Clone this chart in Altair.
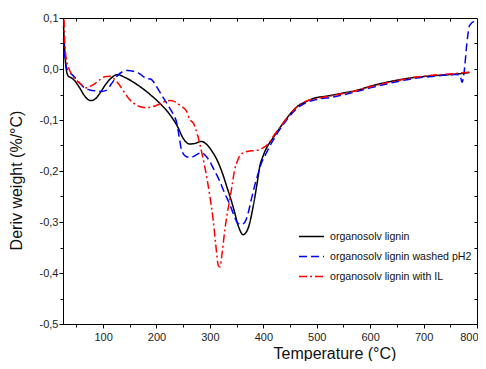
import altair as alt
import pandas as pd

names = ["organosolv lignin", "organosolv lignin washed pH2", "organosolv lignin with IL"]

black_x = [26, 28, 31, 35, 40, 46, 55, 65, 72, 78, 86, 95, 105, 115, 127, 140, 160, 187, 205, 224, 240, 250,
           262, 272, 284, 295, 305, 315, 324, 332, 340, 347, 352, 357, 362, 368, 374, 379, 384, 389, 393, 399,
           405, 417, 430, 445, 462, 480, 493, 520, 550, 574, 600, 640, 680, 720, 760, 786]
black_y = [0.085, 0.04, 0.0, -0.014, -0.017, -0.022, -0.035, -0.052, -0.06, -0.062, -0.058, -0.046, -0.03,
           -0.018, -0.011, -0.016, -0.028, -0.049, -0.066, -0.088, -0.114, -0.136, -0.147, -0.146, -0.142,
           -0.149, -0.163, -0.182, -0.206, -0.232, -0.258, -0.284, -0.304, -0.318, -0.325, -0.32, -0.304,
           -0.28, -0.252, -0.22, -0.193, -0.172, -0.157, -0.137, -0.117, -0.095, -0.075, -0.064, -0.058,
           -0.053, -0.047, -0.042, -0.034, -0.024, -0.017, -0.013, -0.010, -0.007]

blue_x = [26, 28, 31, 34, 40, 46, 55, 65, 75, 87, 97, 106, 115, 127, 137, 146, 158, 168, 180, 190, 197, 205,
          212, 222, 231, 238, 242, 246, 250, 256, 265, 275, 284, 292, 299, 308, 318, 327, 337, 345, 352, 358,
          365, 371, 377, 383, 390, 397, 405, 417, 430, 445, 462, 480, 500, 530, 560, 600, 640, 680, 720, 760,
          768, 772, 776, 781, 786, 798]
blue_y = [0.06, 0.03, 0.005, -0.003, -0.009, -0.015, -0.026, -0.037, -0.041, -0.043, -0.044, -0.042, -0.03,
          -0.013, -0.005, -0.003, -0.005, -0.009, -0.018, -0.02, -0.029, -0.043, -0.055, -0.072, -0.088,
          -0.106, -0.13, -0.155, -0.166, -0.172, -0.173, -0.168, -0.164, -0.17, -0.18, -0.198, -0.219,
          -0.242, -0.265, -0.287, -0.302, -0.305, -0.301, -0.285, -0.258, -0.232, -0.206, -0.183, -0.166,
          -0.142, -0.12, -0.098, -0.078, -0.066, -0.06, -0.055, -0.048, -0.037, -0.027, -0.019, -0.014,
          -0.011, -0.012, -0.026, -0.005, 0.05, 0.085, 0.095]

red_x = [27, 28, 31, 35, 42, 50, 60, 68, 76, 84, 93, 103, 112, 120, 131, 140, 148, 157, 167, 180, 192, 205,
         215, 225, 236, 245, 256, 262, 270, 277, 285, 293, 300, 306, 311, 316, 319, 323, 328, 333, 337, 342,
         346, 351, 356, 365, 374, 385, 393, 400, 409, 420, 432, 447, 463, 480, 500, 530, 560, 600, 640, 680,
         720, 760, 786]
red_y = [0.097, 0.06, 0.02, 0.004, -0.012, -0.022, -0.031, -0.037, -0.034, -0.029, -0.022, -0.015, -0.014,
         -0.019, -0.032, -0.046, -0.058, -0.067, -0.073, -0.076, -0.074, -0.069, -0.064, -0.062, -0.065,
         -0.072, -0.082, -0.098, -0.108, -0.13, -0.165, -0.206, -0.25, -0.295, -0.345, -0.386, -0.388,
         -0.36, -0.315, -0.28, -0.258, -0.225, -0.199, -0.182, -0.17, -0.163, -0.161, -0.16, -0.158,
         -0.154, -0.147, -0.13, -0.113, -0.093, -0.074, -0.063, -0.058, -0.052, -0.046, -0.035, -0.025,
         -0.017, -0.012, -0.009, -0.006]

x_major = [100, 200, 300, 400, 500, 600, 700, 800]
x_minor = [50, 150, 250, 350, 450, 550, 650, 750]
x_all = [50, 100, 150, 200, 250, 300, 350, 400, 450, 500, 550, 600, 650, 700, 750]
y_major = [-0.5, -0.4, -0.3, -0.2, -0.1, 0.0, 0.1]
y_minor = [-0.45, -0.35, -0.25, -0.15, -0.05, 0.05]
y_all = [-0.45, -0.4, -0.35, -0.3, -0.25, -0.2, -0.15, -0.1, -0.05, 0.0, 0.05]

rows = []
for name, xs_, ys_ in zip(names, [black_x, blue_x, red_x], [black_y, blue_y, red_y]):
    for a, b in zip(xs_, ys_):
        rows.append({"T": a, "D": b, "series": name})
df = pd.DataFrame(rows)

W, H = 414, 306
FONT = "Liberation Sans"
xs = alt.Scale(domain=[25, 800], nice=False, zero=False)
ys = alt.Scale(domain=[-0.5, 0.1], nice=False, zero=False)

ylab = "replace(replace(format(datum.value, '.1f'), '.', ','), '\u2212', '-')"

leg = alt.Legend(title=None, orient="none", legendX=235, legendY=205, symbolType="stroke",
                 symbolSize=625, symbolStrokeWidth=1.5, labelFontSize=10.6, labelFont=FONT,
                 labelColor="#111111", padding=0, rowPadding=-10, labelLimit=300, labelOffset=5)

lines = alt.Chart(df).mark_line(strokeWidth=1.5, interpolate="monotone").encode(
    x=alt.X("T:Q", scale=xs, axis=alt.Axis(orient="bottom", values=x_major, title="Temperature (°C)",
                                            tickSize=4, labelPadding=3, labelFlush=True, labelFlushOffset=1,
                                            titleX=210, titleY=34.5, titleBaseline="alphabetic",
                                            titleAlign="left", grid=False)),
    y=alt.Y("D:Q", scale=ys, axis=alt.Axis(orient="left", values=y_major, labelExpr=ylab,
                                            title="Deriv weight (%/°C)", tickSize=4, labelPadding=1,
                                            titleX=-42, titleY=162, titleBaseline="alphabetic",
                                            grid=False)),
    color=alt.Color("series:N", scale=alt.Scale(domain=names, range=["#000000", "#0000ff", "#ff0000"]), legend=leg),
    strokeDash=alt.StrokeDash("series:N", scale=alt.Scale(domain=names, range=[[1, 0], [8, 4], [8, 3, 2, 3]]), legend=leg),
)

minor = alt.Chart(df).mark_point(opacity=0).encode(
    x=alt.X("T:Q", scale=xs, axis=alt.Axis(orient="bottom", values=x_minor, labels=False, domain=False,
                                            tickSize=3, title=None, grid=False)),
    y=alt.Y("D:Q", scale=ys, axis=alt.Axis(orient="left", values=y_minor, labels=False, domain=False,
                                            tickSize=3, title=None, grid=False)),
)

frame = alt.Chart(df).mark_point(opacity=0).encode(
    x=alt.X("T:Q", scale=xs, axis=alt.Axis(orient="bottom", offset=-H, values=x_all, labels=False, domain=False,
                                            tickSize=3, title=None, grid=False)),
    y=alt.Y("D:Q", scale=ys, axis=alt.Axis(orient="left", offset=-W, values=y_all, labels=False, domain=False,
                                            tickSize=3, title=None, grid=False)),
)

chart = alt.layer(lines, minor, frame).resolve_scale(x="shared", y="shared").resolve_axis(
    x="independent", y="independent"
).properties(
    width=W, height=H, autosize=alt.AutoSizeParams(type="none"),
    padding={"left": 55, "top": 10, "right": 1, "bottom": 37},
).configure_view(stroke="#000000", strokeWidth=1).configure_axis(
    domainColor="#000000", tickColor="#000000", labelColor="#222222", titleColor="#111111",
    labelFont=FONT, titleFont=FONT, labelFontSize=11, titleFontSize=16, titleFontWeight="normal",
    domainWidth=1, tickWidth=1,
)

chart.save("out.html", embed_options={"renderer": "svg", "actions": False})
